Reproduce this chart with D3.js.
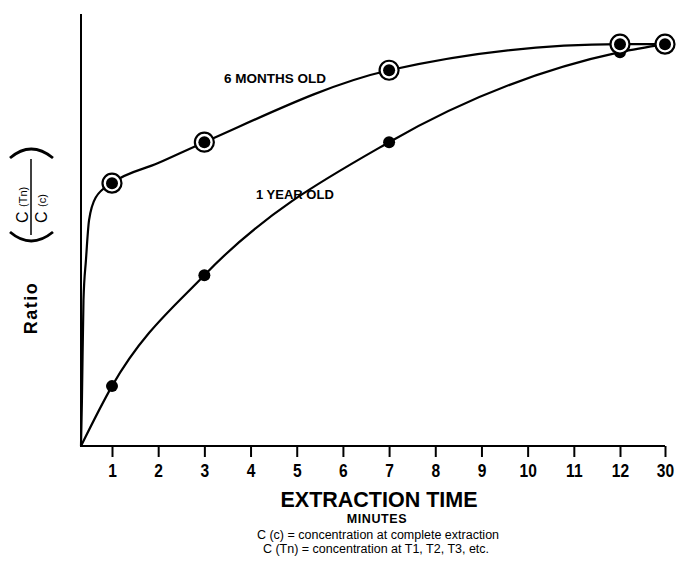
<!DOCTYPE html>
<html>
<head>
<meta charset="utf-8">
<script src="https://cdn.jsdelivr.net/npm/d3@7"></script>
<style>
  html, body { margin: 0; padding: 0; background: #fff; }
  svg { display: block; font-family: "Liberation Sans", Arial, Helvetica, sans-serif; }
</style>
</head>
<body>
<svg id="chart" width="681" height="568"></svg>
<script>
// Extraction time (minutes) at each tick; the axis is not to scale past 12.
const tickTimes = [1, 2, 3, 4, 5, 6, 7, 8, 9, 10, 11, 12, 30];
const tickLabels = ["1", "2", "3", "4", "5", "6", "7", "8", "9", "10", "11", "12", "30"];

// Measured ratio C(Tn)/C(c) at each sampling time.
const sampleTimes = [1, 3, 7, 12, 30];
const sixMonthValues = [0.654, 0.756, 0.935, 1.0, 1.0];
const oneYearValues = [0.149, 0.425, 0.756, 0.98, 1.0];

// Drawn curve paths (time, ratio), including the steep rise near zero.
const sixMonthCurve = [
  [0, 0], [0.03, 0.114], [0.08, 0.363], [0.16, 0.463], [0.26, 0.562],
  [0.48, 0.619], [1, 0.654], [2, 0.704], [3, 0.756], [7, 0.935], [12, 1.0], [30, 1.0]
];
const oneYearCurve = [
  [0, 0], [1, 0.149], [3, 0.425], [7, 0.756], [12, 0.98], [30, 1.0]
];

const svg = d3.select("#chart");

// Piecewise scale: a short lead-in before 1 min, even spacing to 12, one step to 30.
const x = d3.scaleLinear().domain([0, 1, 12, 30]).range([81, 112, 620, 665]);
const y = d3.scaleLinear().domain([0, 1.075]).range([446, 14]);

// Axes
const axisColor = "#000";
svg.append("line")
  .attr("x1", x(0)).attr("x2", x(0))
  .attr("y1", y(0) + 1).attr("y2", y(1.075))
  .attr("stroke", axisColor).attr("stroke-width", 2);

const xAxis = d3.axisBottom(x)
  .tickValues(tickTimes)
  .tickFormat((d, i) => tickLabels[i])
  .tickSize(11)
  .tickSizeOuter(0)
  .tickPadding(7);

const gx = svg.append("g")
  .attr("transform", `translate(0,${y(0)})`)
  .call(xAxis);
gx.select(".domain")
  .attr("d", `M${x(0)},0H${x(30)}`)
  .attr("stroke", axisColor).attr("stroke-width", 2);
gx.selectAll(".tick line").attr("stroke", axisColor).attr("stroke-width", 2);
// condensed bold tick numerals
gx.selectAll(".tick text")
  .attr("fill", "#000")
  .attr("transform", "scale(0.82,1)")
  .style("font-weight", "bold")
  .style("font-size", "19px");

// Curves
const line = d3.line()
  .x(d => x(d[0]))
  .y(d => y(d[1]))
  .curve(d3.curveMonotoneX);

svg.append("path")
  .datum(sixMonthCurve)
  .attr("d", line)
  .attr("fill", "none").attr("stroke", "#000").attr("stroke-width", 2.2);

svg.append("path")
  .datum(oneYearCurve)
  .attr("d", line)
  .attr("fill", "none").attr("stroke", "#000").attr("stroke-width", 2.2);

// 1 year old samples: solid dots
svg.append("g").selectAll("circle")
  .data(sampleTimes.map((t, i) => [t, oneYearValues[i]]))
  .join("circle")
  .attr("cx", d => x(d[0]))
  .attr("cy", d => y(d[1]))
  .attr("r", 6)
  .attr("fill", "#000");

// 6 months old samples: solid dot inside a ring
const sixPts = sampleTimes.map((t, i) => [t, sixMonthValues[i]]);
const ringG = svg.append("g");
ringG.selectAll("circle.ring")
  .data(sixPts)
  .join("circle")
  .attr("class", "ring")
  .attr("cx", d => x(d[0]))
  .attr("cy", d => y(d[1]))
  .attr("r", 9.5)
  .attr("fill", "#fff")
  .attr("stroke", "#000")
  .attr("stroke-width", 2.2);
ringG.selectAll("circle.dot")
  .data(sixPts)
  .join("circle")
  .attr("class", "dot")
  .attr("cx", d => x(d[0]))
  .attr("cy", d => y(d[1]))
  .attr("r", 6)
  .attr("fill", "#000");

// Series labels
svg.append("text")
  .attr("x", 224).attr("y", 83)
  .style("font-size", "13.5px")
  .style("font-weight", "bold")
  .attr("fill", "#000")
  .text("6 MONTHS OLD");

svg.append("text")
  .attr("x", 256).attr("y", 199)
  .style("font-size", "13px")
  .style("font-weight", "bold")
  .attr("fill", "#000")
  .text("1 YEAR OLD");

// X axis titles
svg.append("text")
  .attr("x", 379).attr("y", 507)
  .attr("text-anchor", "middle")
  .style("font-size", "21.5px").style("font-weight", "bold")
  .text("EXTRACTION TIME");

svg.append("text")
  .attr("x", 377).attr("y", 523)
  .attr("text-anchor", "middle")
  .style("font-size", "12.5px").style("font-weight", "bold")
  .style("letter-spacing", "0.6px")
  .text("MINUTES");

svg.append("text")
  .attr("x", 378).attr("y", 539)
  .attr("text-anchor", "middle")
  .style("font-size", "12.5px")
  .text("C (c) = concentration at complete extraction");

svg.append("text")
  .attr("x", 376).attr("y", 553)
  .attr("text-anchor", "middle")
  .style("font-size", "12.5px")
  .text("C (Tn) = concentration at T1, T2, T3, etc.");

// Y axis title: "Ratio"
svg.append("text")
  .attr("transform", "translate(37,308) rotate(-90)")
  .attr("text-anchor", "middle")
  .style("font-size", "18px").style("font-weight", "bold")
  .style("letter-spacing", "1.5px")
  .text("Ratio");

// Y axis title: the fraction C(Tn) / C(c) in parentheses
const frac = svg.append("g").attr("transform", "translate(31,195) rotate(-90)");
frac.append("path")
  .attr("d", "M-37,-21 Q-55,0 -37,22")
  .attr("fill", "none").attr("stroke", "#000").attr("stroke-width", 2.8);
frac.append("path")
  .attr("d", "M37,-21 Q55,0 37,22")
  .attr("fill", "none").attr("stroke", "#000").attr("stroke-width", 2.8);
frac.append("line")
  .attr("x1", -40).attr("x2", 36).attr("y1", 0).attr("y2", 0)
  .attr("stroke", "#000").attr("stroke-width", 1.5);

const num = frac.append("text").attr("x", -28).attr("y", -3);
num.append("tspan").style("font-size", "16px").text("C ");
num.append("tspan").style("font-size", "11px").attr("dy", -1).text("(Tn)");

const den = frac.append("text").attr("x", -28).attr("y", 16);
den.append("tspan").style("font-size", "16px").text("C ");
den.append("tspan").style("font-size", "11px").attr("dy", -1).text("(c)");
</script>
</body>
</html>
